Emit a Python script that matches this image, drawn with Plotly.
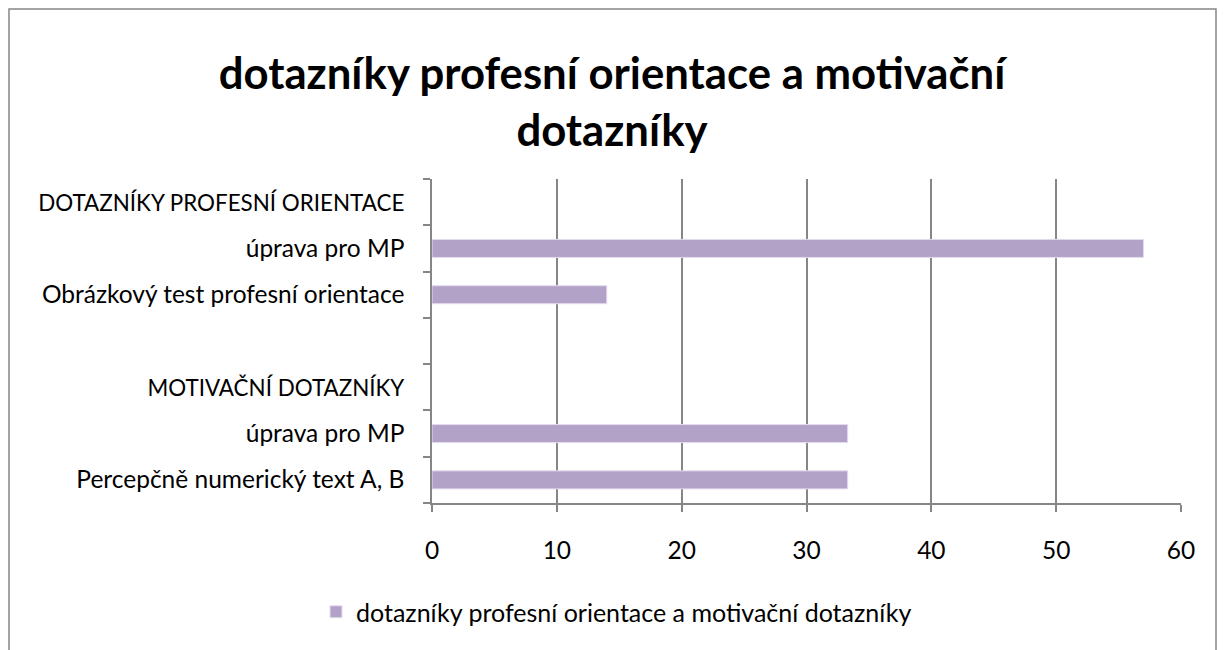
import plotly.graph_objects as go

categories = ["Percepčně numerický text A, B", "úprava pro MP", "MOTIVAČNÍ DOTAZNÍKY", "",
              "Obrázkový test profesní orientace", "úprava pro MP", "DOTAZNÍKY PROFESNÍ ORIENTACE"]
values = [33.3, 33.3, None, None, 14, 57, None]
series_name = "dotazníky profesní orientace a motivační dotazníky"
title_text = "dotazníky profesní orientace a motivační<br>dotazníky"
x_ticks = [0, 10, 20, 30, 40, 50, 60]

positions = list(range(len(categories)))

OFF = 8  # page body margin
W, H = 1225 - OFF, 650 - OFF
L, R, T, B = 424, 44, 171, 147
pw, ph = W - L - R, H - T - B

def px(x):  # reference-pixel x -> paper
    return (x - OFF - L) / pw

def py(y):  # reference-pixel y -> paper
    return (H - B - (y - OFF)) / ph

FONT = "Lato"
GRID = "#868686"

# uppercase group headers render wider in Lato than in the original font; shrink them a bit
tick_text = [f'<span style="font-size:22.4px">{c}</span>' if c.isupper() else c for c in categories]

fig = go.Figure()
fig.add_trace(go.Bar(
    y=positions, x=values, orientation="h", name=series_name,
    width=0.39,
    marker=dict(color="#B3A2C7", line=dict(color="#E3DCEE", width=1)),
    showlegend=True,
))

fig.update_layout(
    width=W, height=H,
    margin=dict(l=L, r=R, t=T, b=B, pad=0, autoexpand=False),
    paper_bgcolor="white", plot_bgcolor="white",
    font=dict(family=FONT, size=24.5, color="black"),
    title=dict(text=title_text, x=(612 - OFF) / W, xref="container", xanchor="center",
               y=1 - (89 - OFF) / H, yref="container", yanchor="middle",
               font=dict(family=FONT, size=43.7, color="black", weight="bold")),
    xaxis=dict(range=[0, 60], tickvals=x_ticks, showgrid=True, gridcolor=GRID, gridwidth=1.5,
               showline=True, linecolor=GRID, linewidth=1.5, ticks="outside", ticklen=7,
               tickcolor=GRID, tickwidth=1.5, zeroline=False, ticklabelstandoff=18,
               automargin=False, tickfont=dict(size=24.5, family=FONT)),
    yaxis=dict(range=[-0.5, len(categories) - 0.5], tickvals=positions, ticktext=tick_text,
               showgrid=False, showline=True, linecolor=GRID, linewidth=1.5,
               ticks="outside", ticklen=0, zeroline=False, ticklabelstandoff=21,
               automargin=False,
               minor=dict(tick0=-0.5, dtick=1, ticks="outside", ticklen=7, tickcolor=GRID,
                          tickwidth=1.5, showgrid=False),
               tickfont=dict(size=24.5, family=FONT)),
    legend=dict(orientation="h", x=px(316), xanchor="left", y=py(612), yanchor="middle",
                font=dict(size=25, family=FONT), bgcolor="rgba(0,0,0,0)"),
    shapes=[dict(type="rect", xref="paper", yref="paper",
                 x0=px(9), x1=px(1216), y0=py(9), y1=py(670),
                 line=dict(color=GRID, width=1.5), fillcolor="rgba(0,0,0,0)", layer="below")],
    bargap=0.6,
)

fig.write_html("out.html")
